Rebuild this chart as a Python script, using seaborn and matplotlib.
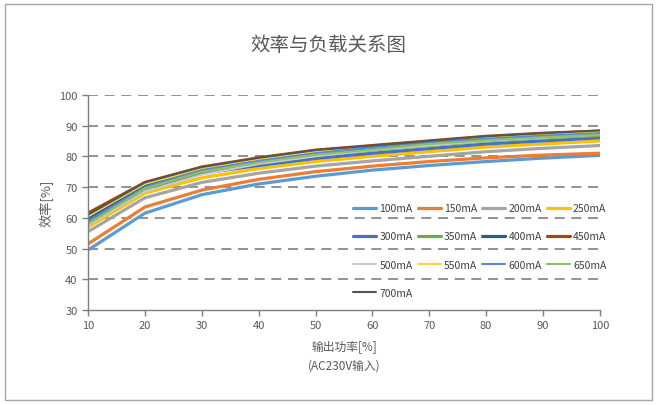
import numpy as np
import matplotlib
matplotlib.use('Agg')
import matplotlib.pyplot as plt
import pandas as pd
import seaborn as sns
from matplotlib.patches import Rectangle

# dati
load = [10, 20, 30, 40, 50, 60, 70, 80, 90, 100]
series = ['100mA', '150mA', '200mA', '250mA', '300mA', '350mA', '400mA',
          '450mA', '500mA', '550mA', '600mA', '650mA', '700mA']
eff_100 = [49.5, 61.5, 67.5, 71.0, 73.5, 75.5, 77.0, 78.3, 79.4, 80.3]
eff_150 = [51.5, 63.5, 69.0, 72.5, 75.0, 76.8, 78.3, 79.5, 80.4, 81.0]
eff_200 = [55.5, 66.5, 71.5, 74.5, 76.8, 78.5, 80.0, 81.5, 82.6, 83.5]
eff_250 = [57.0, 68.0, 73.0, 76.0, 78.3, 80.0, 81.5, 83.0, 84.0, 85.0]
eff_300 = [58.0, 69.5, 74.5, 77.0, 79.3, 81.0, 82.5, 84.0, 85.0, 86.0]
eff_350 = [58.5, 69.5, 75.0, 78.0, 80.3, 82.0, 83.5, 85.0, 86.0, 86.8]
eff_400 = [59.5, 70.5, 75.5, 78.5, 80.8, 82.5, 84.0, 85.5, 86.5, 87.2]
eff_450 = [61.5, 71.5, 76.5, 79.5, 82.0, 83.5, 85.0, 86.5, 87.5, 88.2]
eff_500 = [57.5, 68.5, 74.0, 77.5, 80.0, 82.0, 83.5, 85.0, 86.0, 87.0]
eff_550 = [60.5, 71.0, 76.0, 79.0, 81.5, 83.0, 84.5, 86.0, 87.0, 88.0]
eff_600 = [59.0, 70.0, 75.5, 78.5, 81.0, 83.0, 84.5, 85.7, 86.7, 87.5]
eff_650 = [58.0, 69.5, 75.0, 78.0, 80.5, 82.2, 84.0, 85.2, 86.2, 87.0]
eff_700 = [61.0, 71.5, 76.5, 79.5, 82.0, 83.5, 85.0, 86.5, 87.5, 88.4]

values = [eff_100, eff_150, eff_200, eff_250, eff_300, eff_350, eff_400,
          eff_450, eff_500, eff_550, eff_600, eff_650, eff_700]
colors = ['#5B9BD5', '#ED7D31', '#A5A5A5', '#FFC000', '#4472C4', '#70AD47',
          '#255E91', '#9E480E', '#C9C9C9', '#FFD43B', '#5A87D8', '#8CC168', '#555555']
widths = [2.3] * 8 + [1.5] * 5

df = pd.DataFrame({
    'load': np.tile(load, len(series)),
    'eff': np.concatenate(values),
    'serie': np.repeat(series, len(load)),
})

sns.set_style('white')
plt.rcParams['font.family'] = ['Noto Sans CJK SC', 'DejaVu Sans']

fig = plt.figure(figsize=(6.57, 4.06), dpi=100)
ax = fig.add_axes([0.134, 0.234, 0.779, 0.530])

for name, col, lw in zip(series, colors, widths):
    sub = df[df['serie'] == name]
    sns.lineplot(data=sub, x='load', y='eff', color=col, linewidth=lw,
                 label=name, ax=ax)

ax.set_xlim(10, 100)
ax.set_ylim(30, 100)
ax.set_xticks(range(10, 101, 10))
ax.set_yticks(range(30, 101, 10))
for y in range(40, 101, 10):
    ax.axhline(y, color='#7f7f7f', linestyle=(0, (6, 4)), linewidth=1.2, zorder=0)

for s in ['top', 'right']:
    ax.spines[s].set_visible(False)
for s in ['left', 'bottom']:
    ax.spines[s].set_color('#7f7f7f')
    ax.spines[s].set_linewidth(1.0)
ax.tick_params(axis='both', colors='#595959', labelsize=8, length=4,
               direction='out', width=1.0, left=True, bottom=True)
ax.tick_params(axis='both', color='#7f7f7f')

ax.set_xlabel('输出功率[%]\n(AC230V输入)', fontsize=8.5, color='#595959',
              linespacing=1.7, labelpad=6)
ax.set_ylabel('效率[%]', fontsize=9.5, color='#595959', labelpad=4)

fig.text(0.5, 0.888, '效率与负载关系图', ha='center', va='center',
         fontsize=14, color='#595959')

# legenda riga per riga (4 colonne)
handles, labels = ax.get_legend_handles_labels()
order = [0, 4, 8, 12, 1, 5, 9, 2, 6, 10, 3, 7, 11]
leg = ax.legend([handles[i] for i in order], [labels[i] for i in order],
                ncol=4, loc='upper left', bbox_to_anchor=(0.5, 0.54),
                frameon=False, fontsize=7.5, handlelength=2.2,
                handletextpad=0.3, columnspacing=0.5, labelspacing=1.75)
for t in leg.get_texts():
    t.set_color('#404040')

fig.patches.append(Rectangle((0.008, 0.012), 0.985, 0.975, transform=fig.transFigure,
                             fill=False, edgecolor='#a6a6a6', linewidth=1.0))

fig.savefig('out.png', dpi=100)
